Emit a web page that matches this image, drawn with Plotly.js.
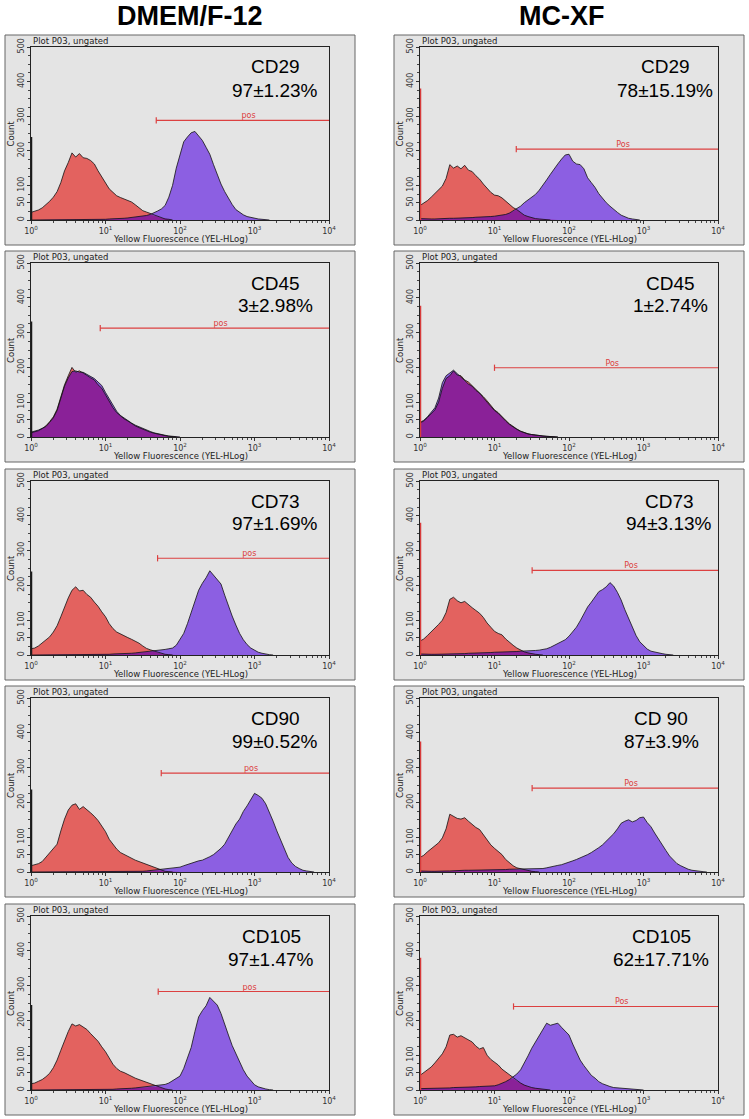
<!DOCTYPE html>
<html>
<head>
<meta charset="utf-8">
<script src="https://cdn.plot.ly/plotly-3.0.1.min.js"></script>
<style>
  html, body { margin: 0; padding: 0; background: #fff; }
  #graph { width: 749px; height: 1119px; }
</style>
</head>
<body>
<div id="graph"></div>
<script>
//////////////////////////////// Data ////////////////////////////////
// histogram counts, one value per 0.05 decade starting at 10^0
var BIN = 0.05;

var markerNames = ['CD29', 'CD45', 'CD73', 'CD90', 'CD105'];
var mcxfNames = ['CD29', 'CD45', 'CD73', 'CD 90', 'CD105'];
var dmemPercent = ['97\u00b11.23%', '3\u00b12.98%', '97\u00b11.69%', '99\u00b10.52%', '97\u00b11.47%'];
var mcxfPercent = ['78\u00b115.19%', '1\u00b12.74%', '94\u00b13.13%', '87\u00b13.9%', '62\u00b117.71%'];

// gate "pos" marker: start value and height
var dmemGateFrom = [48, 8.5, 50, 56, 51];
var dmemGateAt = [288, 313, 278, 284, 283];
var mcxfGateFrom = [19.6, 10, 32, 32, 18];
var mcxfGateAt = [205, 199, 243, 241, 240];

// events piled in the first channel
var dmemSpike = [240, 332, 240, 237, 244];
var mcxfSpike = [380, 377, 380, 375, 380];

// DMEM/F-12, isotype (red) and stained (purple)
var dmemCD29Iso = [22,25,29,35,44,54,66,82,108,142,166,194,182,192,180,178,172,162,142,124,108,90,80,70,65,61,57,52,44,36,27,23,19,14,10,6,3,2,0];
var dmemCD29Stain = [0,0,0,0,0,0,0,0,0,0,0,0,0,0,0,0,0,0,1,2,2,3,3,4,4,5,6,7,9,9,10,13,16,20,26,32,42,66,100,150,192,226,240,252,256,244,230,210,190,160,130,104,82,62,45,30,22,15,10,7,5,3,2,1,0];
var dmemCD45Iso = [12,15,18,24,32,44,58,80,118,150,176,200,186,190,184,176,170,164,150,140,120,104,84,70,60,52,46,38,32,27,22,18,14,11,8,6,4,2,1,0];
var dmemCD45Stain = [14,16,20,25,30,42,55,76,110,146,170,188,190,186,186,180,172,168,158,148,128,110,90,74,62,54,47,40,34,29,24,20,16,12,9,7,5,3,2,1,0];
var dmemCD73Iso = [18,20,26,34,42,52,66,84,110,138,164,186,196,184,186,174,166,152,140,124,110,90,76,66,60,56,50,45,40,34,26,19,15,12,7,4,2,1,0];
var dmemCD73Stain = [0,0,0,0,0,0,0,0,0,0,0,0,0,0,0,0,0,0,0,1,2,2,3,3,4,4,5,5,6,7,8,9,10,11,12,14,16,18,20,28,44,62,90,122,158,186,206,222,242,230,218,204,172,140,112,86,62,44,30,20,13,8,5,2,1,0];
var dmemCD90Iso = [18,20,24,30,42,55,66,80,118,152,178,192,196,180,188,180,170,160,148,132,116,94,80,66,56,50,44,40,34,30,26,22,18,14,9,5,2,1,0];
var dmemCD90Stain = [0,0,0,0,0,0,0,0,0,0,0,0,0,0,0,0,0,0,0,0,0,0,0,0,0,0,0,0,0,0,2,3,4,5,6,7,8,9,10,12,14,18,22,26,28,32,34,38,44,50,58,68,80,100,120,138,152,174,190,210,226,220,212,196,172,146,118,94,66,42,26,16,10,5,3,1,0];
var dmemCD105Iso = [18,20,25,30,38,48,64,86,114,142,168,190,184,188,180,174,162,152,140,124,110,92,74,62,54,50,44,40,34,30,26,22,18,14,10,6,3,1,0];
var dmemCD105Stain = [0,0,0,0,0,0,0,0,0,0,0,0,0,0,0,0,0,0,0,0,1,2,2,3,3,4,4,5,6,7,8,9,10,11,12,13,16,20,26,32,40,62,90,122,168,210,228,242,266,256,244,220,192,158,128,104,80,58,40,26,15,9,5,3,1,0];

// MC-XF, isotype (red) and stained (purple)
var mcxfCD29Iso = [42,48,56,66,76,88,98,120,160,150,156,148,158,144,140,128,118,104,92,80,72,70,64,54,44,36,30,22,14,10,6,4,3,2,1,0];
var mcxfCD29Stain = [4,3,3,3,3,4,4,4,5,5,5,6,6,7,7,8,8,9,10,10,11,12,14,16,20,26,32,40,50,58,66,74,86,100,116,132,148,162,176,188,190,170,162,160,148,122,108,94,76,62,50,40,30,22,14,9,5,3,1,0];
var mcxfCD45Iso = [40,46,56,66,78,100,140,168,176,190,178,176,164,158,148,138,128,116,104,90,78,70,58,48,38,30,23,17,12,9,7,5,4,3,2,2,1,0];
var mcxfCD45Stain = [42,48,58,70,84,112,156,176,184,192,182,172,160,152,146,134,126,112,100,88,76,68,56,46,36,28,22,16,12,9,7,5,4,3,2,1,1,0];
var mcxfCD73Iso = [40,46,56,66,76,88,100,122,160,166,156,150,154,144,136,128,120,108,92,80,68,62,58,46,36,28,20,14,9,6,3,2,1,0];
var mcxfCD73Stain = [3,2,2,2,2,2,3,3,3,3,4,4,4,5,5,5,6,6,7,7,8,8,9,9,10,10,10,11,11,12,12,13,14,15,18,22,27,32,38,44,54,66,80,98,120,138,152,168,182,188,196,208,198,180,158,130,104,80,56,38,26,17,11,8,5,4,2,1,0];
var mcxfCD90Iso = [42,48,58,66,74,84,98,124,166,160,154,152,156,146,136,128,122,108,92,78,68,60,50,36,26,18,12,9,6,4,2,1,0];
var mcxfCD90Stain = [3,2,2,2,2,3,3,3,3,4,4,4,5,5,5,5,6,6,6,6,7,7,7,7,8,8,8,8,8,8,8,9,9,10,12,15,17,19,21,24,28,32,36,40,44,50,56,62,70,78,88,98,110,124,140,146,150,144,148,156,158,142,130,112,94,78,62,46,34,24,18,12,8,5,3,2,1,0];
var mcxfCD105Iso = [42,50,58,66,78,92,104,124,158,160,152,156,150,142,138,126,118,122,100,88,80,72,60,52,42,34,26,20,14,10,7,5,4,2,1,0];
var mcxfCD105Stain = [4,4,4,5,5,5,6,6,6,7,7,8,8,8,9,9,10,10,11,11,12,15,19,24,30,38,46,58,76,98,120,138,156,176,192,186,188,192,180,168,158,132,108,86,70,55,42,34,24,18,13,10,7,6,5,4,3,2,2,1,0];

var decades = [1, 10, 100, 1000, 10000];
var decadeText = ['10<sup>0</sup>', '10<sup>1</sup>', '10<sup>2</sup>', '10<sup>3</sup>', '10<sup>4</sup>'];
var countTicks = [0, 50, 100, 200, 300, 400, 500];

//////////////////////////////// Layout numbers ////////////////////////////////
var W = 749, H = 1119;
var rowTop = [47, 263, 481, 698, 916];
var rowBottom = [220, 437, 655, 872, 1090];
var RED = '#e3625f';
var PURPLE = '#8c5fe2';
var OVERLAP = '#8a2198';
var GATE = '#dc4040';
var SMALL = 'DejaVu Sans, Verdana, sans-serif';
var BIG = 'Liberation Sans, Arial, sans-serif';

function xp(v) { return v / W; }
function yp(v) { return 1 - v / H; }
function binX(arr) { return arr.map(function (_, i) { return Math.pow(10, i * BIN); }); }

var columns = [
    {
        iso: [dmemCD29Iso, dmemCD45Iso, dmemCD73Iso, dmemCD90Iso, dmemCD105Iso],
        stain: [dmemCD29Stain, dmemCD45Stain, dmemCD73Stain, dmemCD90Stain, dmemCD105Stain],
        names: markerNames, pct: dmemPercent,
        gateFrom: dmemGateFrom, gateAt: dmemGateAt, spike: dmemSpike,
        gateWord: 'pos', spikeColor: '#1a1a1a',
        labelX: [275, 275, 275, 275, 271],
        plotX: [31, 329], boxX: [5, 355], header: 'DMEM/F-12', headerX: 190
    },
    {
        iso: [mcxfCD29Iso, mcxfCD45Iso, mcxfCD73Iso, mcxfCD90Iso, mcxfCD105Iso],
        stain: [mcxfCD29Stain, mcxfCD45Stain, mcxfCD73Stain, mcxfCD90Stain, mcxfCD105Stain],
        names: mcxfNames, pct: mcxfPercent,
        gateFrom: mcxfGateFrom, gateAt: mcxfGateAt, spike: mcxfSpike,
        gateWord: 'Pos', spikeColor: '#d83c3c',
        labelX: [665, 670, 669, 661, 661],
        plotX: [420, 718], boxX: [394, 744], header: 'MC-XF', headerX: 561
    }
];

// minor ticks for the log axis
var minorX = [];
for (var d = 0; d < 4; d++) {
    for (var m = 2; m < 10; m++) minorX.push(m * Math.pow(10, d));
}

var data = [];
var layout = {
    width: W, height: H,
    margin: {l: 0, r: 0, t: 0, b: 0},
    paper_bgcolor: '#ffffff',
    plot_bgcolor: '#e4e4e4',
    showlegend: false,
    hovermode: false,
    shapes: [],
    annotations: []
};

columns.forEach(function (col, c) {
    layout.annotations.push({
        xref: 'paper', yref: 'paper', x: xp(col.headerX), y: yp(16),
        xanchor: 'center', yanchor: 'middle', showarrow: false,
        text: '<b>' + col.header + '</b>',
        font: {family: BIG, size: 27, color: '#000'}
    });

    for (var r = 0; r < 5; r++) {
        var k = c * 5 + r;
        var s = k === 0 ? '' : String(k + 1);
        var xa = 'x' + s, ya = 'y' + s;
        var iso = col.iso[r], stain = col.stain[r];

        // overlap of the two histograms
        var n = Math.max(iso.length, stain.length);
        var both = [];
        for (var i = 0; i < n; i++) both.push(Math.min(iso[i] || 0, stain[i] || 0));

        data.push({x: binX(iso), y: iso, xaxis: xa, yaxis: ya, type: 'scatter', mode: 'lines',
            fill: 'tozeroy', fillcolor: RED, line: {width: 0, color: RED}});
        data.push({x: binX(stain), y: stain, xaxis: xa, yaxis: ya, type: 'scatter', mode: 'lines',
            fill: 'tozeroy', fillcolor: PURPLE, line: {width: 0, color: PURPLE}});
        data.push({x: binX(both), y: both, xaxis: xa, yaxis: ya, type: 'scatter', mode: 'lines',
            fill: 'tozeroy', fillcolor: OVERLAP, line: {width: 0, color: OVERLAP}});
        data.push({x: binX(iso), y: iso, xaxis: xa, yaxis: ya, type: 'scatter', mode: 'lines',
            line: {width: 0.8, color: '#111'}});
        data.push({x: binX(stain), y: stain, xaxis: xa, yaxis: ya, type: 'scatter', mode: 'lines',
            line: {width: 0.8, color: '#111'}});

        // first channel spike
        data.push({x: [1, 1], y: [0, col.spike[r]], xaxis: xa, yaxis: ya, type: 'scatter', mode: 'lines',
            line: {width: 2.5, color: col.spikeColor}});

        // gate marker
        var g = col.gateFrom[r], h = col.gateAt[r];
        data.push({x: [g, 10000], y: [h, h], xaxis: xa, yaxis: ya, type: 'scatter', mode: 'lines',
            line: {width: 1.2, color: GATE}});
        data.push({x: [g, g], y: [h - 9, h + 9], xaxis: xa, yaxis: ya, type: 'scatter', mode: 'lines',
            line: {width: 1.2, color: GATE}});
        var mid = Math.pow(10, (Math.log10(g) + 4) / 2 + 0.08);
        data.push({x: [mid], y: [h], xaxis: xa, yaxis: ya, type: 'scatter', mode: 'text',
            text: [col.gateWord], textposition: 'top center',
            textfont: {family: SMALL, size: 8, color: GATE}});

        layout['xaxis' + s] = {
            domain: [xp(col.plotX[0]), xp(col.plotX[1])], anchor: ya,
            type: 'log', range: [0, 4],
            tickmode: 'array', tickvals: decades, ticktext: decadeText,
            ticks: 'outside', ticklen: 3, tickcolor: '#333',
            tickfont: {family: SMALL, size: 8, color: '#333'},
            minor: {tickmode: 'array', tickvals: minorX, ticks: 'outside', ticklen: 2, tickcolor: '#444', showgrid: false},
            showgrid: false, zeroline: false,
            showline: true, mirror: true, linecolor: '#222', linewidth: 1,
            fixedrange: true
        };
        layout['yaxis' + s] = {
            domain: [yp(rowBottom[r]), yp(rowTop[r])], anchor: xa,
            range: [0, 500],
            tickmode: 'array', tickvals: countTicks, tickangle: -90,
            ticks: 'outside', ticklen: 3, tickcolor: '#333',
            tickfont: {family: SMALL, size: 8, color: '#333'},
            minor: {dtick: 25, ticks: 'outside', ticklen: 2, tickcolor: '#444', showgrid: false},
            showgrid: false, zeroline: false,
            showline: true, mirror: true, linecolor: '#222', linewidth: 1,
            fixedrange: true
        };

        // outer panel box
        layout.shapes.push({
            type: 'rect', xref: 'paper', yref: 'paper', layer: 'below',
            x0: xp(col.boxX[0]), x1: xp(col.boxX[1]),
            y0: yp(rowBottom[r] + 25), y1: yp(rowTop[r] - 12),
            fillcolor: '#e4e4e4', line: {color: '#666', width: 1}
        });

        var cx = (col.plotX[0] + col.plotX[1]) / 2;
        layout.annotations.push(
            {xref: 'paper', yref: 'paper', x: xp(col.plotX[0]), y: yp(rowTop[r] - 6),
             xanchor: 'left', yanchor: 'middle', showarrow: false,
             text: 'Plot P03, ungated', font: {family: SMALL, size: 8.5, color: '#222'}},
            {xref: 'paper', yref: 'paper', x: xp(col.plotX[0] - 20), y: yp((rowTop[r] + rowBottom[r]) / 2),
             xanchor: 'center', yanchor: 'middle', showarrow: false, textangle: -90,
             text: 'Count', font: {family: SMALL, size: 8.5, color: '#222'}},
            {xref: 'paper', yref: 'paper', x: xp(cx), y: yp(rowBottom[r] + 19),
             xanchor: 'center', yanchor: 'middle', showarrow: false,
             text: 'Yellow Fluorescence (YEL-HLog)', font: {family: SMALL, size: 8.5, color: '#222'}},
            {xref: 'paper', yref: 'paper', x: xp(col.labelX[r]), y: yp(rowTop[r] + 20),
             xanchor: 'center', yanchor: 'middle', showarrow: false,
             text: col.names[r], font: {family: BIG, size: 19, color: '#000'}},
            {xref: 'paper', yref: 'paper', x: xp(col.labelX[r]), y: yp(rowTop[r] + 43),
             xanchor: 'center', yanchor: 'middle', showarrow: false,
             text: col.pct[r], font: {family: BIG, size: 19, color: '#000'}}
        );
    }
});

Plotly.newPlot('graph', data, layout, {staticPlot: true});
</script>
</body>
</html>
